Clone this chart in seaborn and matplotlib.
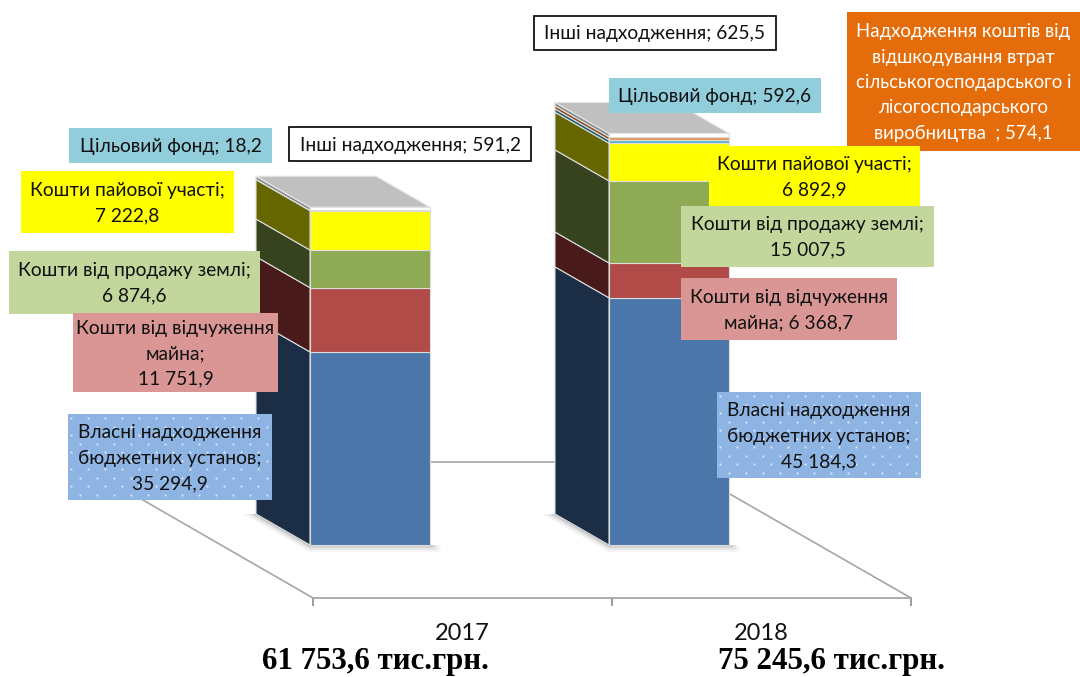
import matplotlib
matplotlib.use("Agg")
import matplotlib.pyplot as plt
import matplotlib.transforms as mtrans
from matplotlib.lines import Line2D
from matplotlib.patches import Polygon, Rectangle
import numpy as np
import pandas as pd
import seaborn as sns

years = ["2017", "2018"]
own_income = [35294.9, 45184.3]
property_sale = [11751.9, 6368.7]
land_sale = [6874.6, 15007.5]
share_funds = [7222.8, 6892.9]
target_fund = [18.2, 592.6]
loss_compensation = [0.0, 574.1]
other_income = [591.2, 625.5]
totals = ["61 753,6 тис.грн.", "75 245,6 тис.грн."]

series_names = ["own", "property", "land", "share", "target", "loss", "other"]
series_values = [own_income, property_sale, land_sale, share_funds,
                 target_fund, loss_compensation, other_income]
front_colors = ["#4A76A9", "#B04B47", "#8FAA54", "#FFFF00", "#5FB0C8", "#E5935A", "#FFFFFF"]
side_colors = ["#1B2E46", "#481B1A", "#37431F", "#666600", "#1F5A70", "#8A4A20", "#8C8C8C"]

df = pd.DataFrame({n: v for n, v in zip(series_names, series_values)}, index=years)

W, H = 1080, 677
PX_X = 299.0          # pixels per category
PX_Y = 5.47 / 1000.0  # pixels per value unit
AX0_X, AX0_Y = 462.5, 598.0  # pixel of category 0 on the floor line
BODY = "Lato"

sns.set_theme(style="white")
plt.rcParams["font.family"] = [BODY, "Noto Sans", "DejaVu Sans"]
fig = plt.figure(figsize=(W / 100, H / 100), dpi=100, facecolor="white")
ax = fig.add_axes([0, 0, 1, 1])

bar_w = 120 / PX_X
depth_x = -54 / PX_X
depth_y = 31 / PX_Y
bar_shift = mtrans.Affine2D().translate(-92.5, 53)
bar_tf = ax.transData + bar_shift

# floor
floor_color = "#A6A6A6"
back_x, back_y = -236 / PX_X, 136 / PX_Y
ax.plot([-0.5, -0.5 + back_x, 1.5 + back_x - 0.003, 1.5], [0, back_y, back_y, 0],
        color=floor_color, lw=1.2, zorder=1, solid_joinstyle="miter")

# soft shadow below each bar
for i in range(2):
    left, right = i - bar_w / 2, i + bar_w / 2
    for grow, alpha in zip([13, 9, 5, 2], [0.05, 0.08, 0.12, 0.18]):
        gx, gy = grow / PX_X, grow * 0.55 / PX_Y
        pts = [(left + depth_x - gx, depth_y), (left, -gy), (right + gx * 0.8, -gy),
               (right + gx * 0.8, 0), (left, 0), (left + depth_x, depth_y)]
        ax.add_patch(Polygon(pts, closed=True, transform=bar_tf, fc="#404040", ec="none",
                             alpha=alpha, zorder=1.5))

# stacked front faces
bottom = np.zeros(2)
edge = "#DDDDDD"
for name, color, side in zip(series_names, front_colors, side_colors):
    vals = df[name].to_numpy()
    n_before = len(ax.patches)
    sns.barplot(x=years, y=vals, bottom=bottom, color=color, saturation=1, width=bar_w,
                edgecolor=edge, linewidth=0.8, ax=ax, zorder=3)
    for p in ax.patches[n_before:]:
        p.set_transform(bar_tf)
    for i in range(2):
        if vals[i] <= 0:
            continue
        left = i - bar_w / 2
        pts = [(left, bottom[i]), (left, bottom[i] + vals[i]),
               (left + depth_x, bottom[i] + vals[i] + depth_y),
               (left + depth_x, bottom[i] + depth_y)]
        ax.add_patch(Polygon(pts, closed=True, transform=bar_tf, fc=side, ec=edge,
                             lw=0.8, zorder=3))
    bottom = bottom + vals

# top faces
for i in range(2):
    left, right = i - bar_w / 2, i + bar_w / 2
    pts = [(left, bottom[i]), (right, bottom[i]), (right + depth_x, bottom[i] + depth_y),
           (left + depth_x, bottom[i] + depth_y)]
    ax.add_patch(Polygon(pts, closed=True, transform=bar_tf, fc="#C0C0C0", ec="#E6E6E6",
                         lw=0.8, zorder=3))

ax.set_xlim(-AX0_X / PX_X, (W - AX0_X) / PX_X)
ax.set_ylim(-(H - AX0_Y) / PX_Y, AX0_Y / PX_Y)
ax.set_xlabel("")
ax.set_ylabel("")
ax.set_yticks([])
for s in ["top", "left", "right"]:
    ax.spines[s].set_visible(False)
ax.spines["bottom"].set_position(("data", 0))
ax.spines["bottom"].set_bounds(-0.5, 1.5)
ax.spines["bottom"].set_color(floor_color)
ax.spines["bottom"].set_linewidth(1.3)
ax.spines["bottom"].set_zorder(1)
ax.set_xticks([0, 1])
ax.set_xticklabels(years, fontsize=17, color="#111111")
ax.set_xticks([-0.5, 0.5, 1.5], minor=True)
ax.tick_params(axis="x", which="major", bottom=False, pad=12)
ax.tick_params(axis="x", which="minor", bottom=True, length=5.5, width=1.1,
               color="#808080", direction="out")
ax.patch.set_alpha(0)

# data labels in pixel layout (x0, y0, x1, y1 from the top-left)
labels = [
    ("Інші надходження; 591,2", (289, 127, 531, 161), "#FFFFFF", "#000000", "#111111", False),
    ("Цільовий фонд; 18,2", (69, 128, 272, 163), "#92CDDC", None, "#111111", False),
    ("Кошти пайової участі;\n7 222,8", (21, 171, 234, 233), "#FFFF00", None, "#111111", False),
    ("Кошти від продажу землі;\n6 874,6", (9, 251, 260, 314), "#C3D69B", None, "#111111", False),
    ("Кошти від відчуження\nмайна;\n11 751,9", (73, 313, 278, 392), "#D99694", None, "#111111", False),
    ("Власні надходження\nбюджетних установ;\n35 294,9", (68, 414, 272, 500), "#8EB4E3", None, "#111111", True),
    ("Інші надходження; 625,5", (534, 16, 776, 50), "#FFFFFF", "#000000", "#111111", False),
    ("Надходження коштів від\nвідшкодування втрат\nсільськогосподарського і\nлісогосподарського\nвиробництва  ; 574,1",
     (847, 12, 1080, 151), "#E46C0A", None, "#FFFFFF", False),
    ("Цільовий фонд; 592,6", (609, 78, 821, 113), "#92CDDC", None, "#111111", False),
    ("Кошти пайової участі;\n6 892,9", (709, 146, 920, 207), "#FFFF00", None, "#111111", False),
    ("Кошти від продажу землі;\n15 007,5", (681, 206, 934, 267), "#C3D69B", None, "#111111", False),
    ("Кошти від відчуження\nмайна; 6 368,7", (681, 278, 897, 340), "#D99694", None, "#111111", False),
    ("Власні надходження\nбюджетних установ;\n45 184,3", (717, 392, 921, 478), "#8EB4E3", None, "#111111", True),
]
for text, (x0, y0, x1, y1), fc, ec, tc, dots in labels:
    fx0, fx1 = x0 / W, x1 / W
    fy0, fy1 = 1 - y1 / H, 1 - y0 / H
    fig.add_artist(Rectangle((fx0, fy0), fx1 - fx0, fy1 - fy0, transform=fig.transFigure,
                             fc=fc, ec=ec if ec else "none", lw=1.2 if ec else 0, zorder=6))
    if dots:
        # speckled fill of the box
        gx, gy = [], []
        for r, py in enumerate(np.arange(y0 + 4, y1 - 1, 8.5)):
            for px in np.arange(x0 + 3 + (r % 2) * 8.5, x1 - 1, 17):
                gx.append(px / W)
                gy.append(1 - py / H)
        fig.add_artist(Line2D(gx, gy, transform=fig.transFigure, ls="none", marker="s",
                              ms=1.3, mew=0, color="#E4EEFA", zorder=6.1))
    size = 13.4 if tc == "#FFFFFF" else 13.8
    fig.text((fx0 + fx1) / 2, (fy0 + fy1) / 2 - 1 / H, text, ha="center", va="center", color=tc,
             fontsize=size, linespacing=1.6, zorder=7)

# totals under the chart
for t, cx, cy in zip(totals, [375, 832], [661, 662]):
    fig.text(cx / W, 1 - cy / H, t, ha="center", va="center", fontsize=22.2,
             fontweight="bold", family="Liberation Serif", color="#000000", zorder=7)

fig.savefig("out.png", dpi=100)
